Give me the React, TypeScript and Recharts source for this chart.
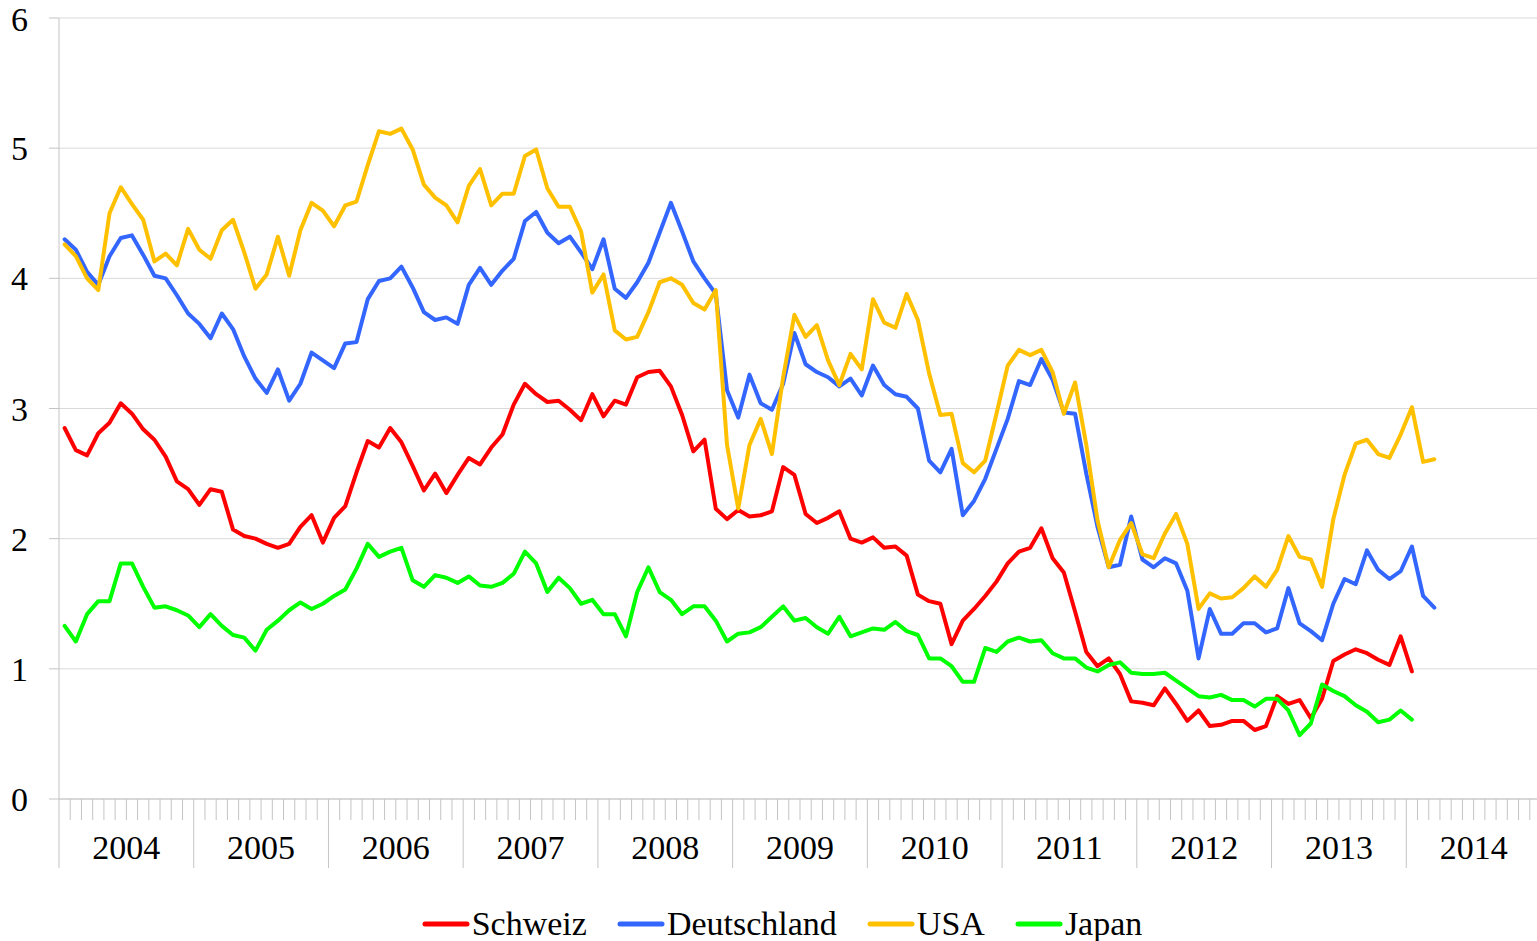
import React from 'react';
import { LineChart, Line, XAxis, YAxis, CartesianGrid, Legend } from 'recharts';

const years = ['2004', '2005', '2006', '2007', '2008', '2009', '2010', '2011', '2012', '2013', '2014'];

// monthly values, Jan 2004 onwards
const schweiz = [
  2.85, 2.68, 2.64, 2.81, 2.89, 3.04, 2.96, 2.84, 2.76, 2.63,
  2.44, 2.38, 2.26, 2.38, 2.36, 2.07, 2.02, 2.00, 1.96, 1.93,
  1.96, 2.09, 2.18, 1.97, 2.16, 2.25, 2.51, 2.75, 2.70, 2.85,
  2.74, 2.56, 2.37, 2.50, 2.35, 2.49, 2.62, 2.57, 2.70, 2.80,
  3.03, 3.19, 3.11, 3.05, 3.06, 2.99, 2.91, 3.11, 2.94, 3.06,
  3.03, 3.24, 3.28, 3.29, 3.17, 2.95, 2.67, 2.76, 2.23, 2.15,
  2.22, 2.17, 2.18, 2.21, 2.55, 2.49, 2.19, 2.12, 2.16, 2.21,
  2.00, 1.97, 2.01, 1.93, 1.94, 1.87, 1.57, 1.52, 1.50, 1.19,
  1.37, 1.46, 1.56, 1.67, 1.81, 1.90, 1.93, 2.08, 1.85, 1.74,
  1.44, 1.13, 1.02, 1.08, 0.96, 0.75, 0.74, 0.72, 0.85, 0.73,
  0.60, 0.68, 0.56, 0.57, 0.60, 0.60, 0.53, 0.56, 0.79, 0.73,
  0.76, 0.62, 0.77, 1.06, 1.11, 1.15, 1.12, 1.07, 1.03, 1.25,
  0.98,
];

const deutschland = [
  4.30, 4.22, 4.05, 3.95, 4.17, 4.31, 4.33, 4.18, 4.02, 4.00,
  3.87, 3.73, 3.65, 3.54, 3.73, 3.61, 3.40, 3.23, 3.12, 3.30,
  3.06, 3.19, 3.43, 3.37, 3.31, 3.50, 3.51, 3.84, 3.98, 4.00,
  4.09, 3.93, 3.74, 3.68, 3.70, 3.65, 3.95, 4.08, 3.95, 4.06,
  4.15, 4.44, 4.51, 4.35, 4.27, 4.32, 4.20, 4.07, 4.30, 3.92,
  3.85, 3.97, 4.12, 4.35, 4.58, 4.36, 4.13, 4.00, 3.88, 3.14,
  2.93, 3.26, 3.04, 2.99, 3.19, 3.58, 3.34, 3.28, 3.24, 3.17,
  3.23, 3.10, 3.33, 3.18, 3.11, 3.09, 3.00, 2.60, 2.51, 2.69,
  2.18, 2.29, 2.46, 2.69, 2.92, 3.21, 3.18, 3.38, 3.22, 2.97,
  2.96, 2.50, 2.09, 1.78, 1.80, 2.17, 1.84, 1.78, 1.85, 1.81,
  1.60, 1.08, 1.46, 1.27, 1.27, 1.35, 1.35, 1.28, 1.31, 1.62,
  1.35, 1.29, 1.22, 1.50, 1.69, 1.65, 1.91, 1.76, 1.69, 1.75,
  1.94, 1.56, 1.47,
];

const usa = [
  4.26, 4.17, 4.00, 3.91, 4.50, 4.70, 4.57, 4.45, 4.13, 4.19,
  4.10, 4.38, 4.22, 4.15, 4.37, 4.45, 4.20, 3.92, 4.03, 4.32,
  4.02, 4.37, 4.58, 4.52, 4.40, 4.56, 4.59, 4.87, 5.13, 5.11,
  5.15, 4.99, 4.72, 4.62, 4.56, 4.43, 4.71, 4.84, 4.56, 4.65,
  4.65, 4.94, 4.99, 4.69, 4.55, 4.55, 4.36, 3.89, 4.03, 3.60,
  3.53, 3.55, 3.74, 3.97, 4.00, 3.95, 3.81, 3.76, 3.91, 2.72,
  2.23, 2.72, 2.92, 2.65, 3.24, 3.72, 3.55, 3.64, 3.37, 3.18,
  3.42, 3.30, 3.84, 3.66, 3.62, 3.88, 3.68, 3.27, 2.95, 2.96,
  2.58, 2.51, 2.60, 2.96, 3.33, 3.45, 3.41, 3.45, 3.28, 2.96,
  3.20, 2.72, 2.14, 1.78, 1.99, 2.12, 1.88, 1.85, 2.04, 2.19,
  1.96, 1.46, 1.58, 1.54, 1.55, 1.62, 1.71, 1.63, 1.76, 2.02,
  1.86, 1.84, 1.63, 2.15, 2.49, 2.73, 2.76, 2.65, 2.62, 2.80,
  3.01, 2.59, 2.61,
];

const japan = [
  1.33, 1.21, 1.42, 1.52, 1.52, 1.81, 1.81, 1.63, 1.47, 1.48,
  1.45, 1.41, 1.32, 1.42, 1.33, 1.26, 1.24, 1.14, 1.30, 1.37,
  1.45, 1.51, 1.46, 1.50, 1.56, 1.61, 1.77, 1.96, 1.86, 1.90,
  1.93, 1.68, 1.63, 1.72, 1.70, 1.66, 1.71, 1.64, 1.63, 1.66,
  1.73, 1.90, 1.81, 1.59, 1.70, 1.62, 1.50, 1.53, 1.42, 1.42,
  1.25, 1.59, 1.78, 1.59, 1.53, 1.42, 1.48, 1.48, 1.37, 1.21,
  1.27, 1.28, 1.32, 1.40, 1.48, 1.37, 1.39, 1.32, 1.27, 1.40,
  1.25, 1.28, 1.31, 1.30, 1.36, 1.29, 1.26, 1.08, 1.08, 1.02,
  0.90, 0.90, 1.16, 1.13, 1.21, 1.24, 1.21, 1.22, 1.12, 1.08,
  1.08, 1.01, 0.98, 1.03, 1.05, 0.97, 0.96, 0.96, 0.97, 0.91,
  0.85, 0.79, 0.78, 0.80, 0.76, 0.76, 0.71, 0.77, 0.77, 0.68,
  0.49, 0.58, 0.88, 0.83, 0.79, 0.72, 0.67, 0.59, 0.61, 0.68,
  0.61,
];

const yTicks = [0, 1, 2, 3, 4, 5, 6];

const series = [
  { key: 'schweiz', name: 'Schweiz', color: '#FF0000', values: schweiz },
  { key: 'deutschland', name: 'Deutschland', color: '#3366FF', values: deutschland },
  { key: 'usa', name: 'USA', color: '#FFC000', values: usa },
  { key: 'japan', name: 'Japan', color: '#00FF00', values: japan },
];

const monthCount = years.length * 12;
const monthTicks = Array.from({ length: monthCount + 1 }, (_, k) => k);

// one row per month, x sits in the middle of the month slot
const data = Array.from({ length: monthCount }, (_, i) => {
  const row: Record<string, number | undefined> = { t: i + 0.5 };
  series.forEach((s) => {
    row[s.key] = s.values[i];
  });
  return row;
});

const FONT = '"Liberation Serif", "Times New Roman", serif';
const AXIS = '#c4c4c4';

function MonthTick(props: any) {
  const { x, y, payload } = props;
  const k = payload.value as number;
  const yearStart = k % 12 === 0;
  return (
    <g>
      <line x1={x} x2={x} y1={y} y2={y + (yearStart ? 69 : 21)} stroke={AXIS} strokeWidth={1} />
      {k % 12 === 6 && (
        <text x={x} y={y + 60} textAnchor="middle" fontFamily={FONT} fontSize={34} fill="#000">
          {years[Math.floor(k / 12)]}
        </text>
      )}
    </g>
  );
}

function LegendBox() {
  return (
    <div style={{ display: 'flex', justifyContent: 'center', alignItems: 'center', gap: 30, fontFamily: FONT, fontSize: 34 }}>
      {series.map((s) => (
        <div key={s.key} style={{ display: 'flex', alignItems: 'center' }}>
          <svg width={48} height={10} style={{ marginRight: 2 }}>
            <line x1={3} x2={45} y1={5} y2={5} stroke={s.color} strokeWidth={5} strokeLinecap="round" />
          </svg>
          <span>{s.name}</span>
        </div>
      ))}
    </div>
  );
}

export default function App() {
  return (
    <div style={{ position: 'absolute', left: 0, top: 0, width: 1537, height: 941, overflow: 'hidden', background: '#fff' }}>
      <LineChart width={1541} height={941} data={data} margin={{ top: 18, right: 0, left: 0, bottom: 72 }}>
        <CartesianGrid vertical={false} stroke="#d9d9d9" />
        <XAxis
          type="number"
          dataKey="t"
          domain={[0, monthCount]}
          ticks={monthTicks}
          interval={0}
          height={70}
          tickLine={false}
          tickSize={0}
          tickMargin={0}
          axisLine={{ stroke: AXIS }}
          tick={<MonthTick />}
        />
        <YAxis
          domain={[0, 6]}
          ticks={yTicks}
          width={59}
          tickSize={10}
          tickMargin={21}
          tickLine={{ stroke: AXIS }}
          axisLine={{ stroke: AXIS }}
          tick={{ fill: '#000', fontSize: 34, fontFamily: FONT }}
        />
        <Legend
          verticalAlign="middle"
          align="center"
          layout="horizontal"
          wrapperStyle={{ top: 905, left: 0, width: 1564, height: 46 }}
          content={() => <LegendBox />}
        />
        {series.map((s) => (
          <Line
            key={s.key}
            type="linear"
            dataKey={s.key}
            name={s.name}
            stroke={s.color}
            strokeWidth={4}
            strokeLinejoin="round"
            strokeLinecap="round"
            dot={false}
            isAnimationActive={false}
          />
        ))}
      </LineChart>
    </div>
  );
}
